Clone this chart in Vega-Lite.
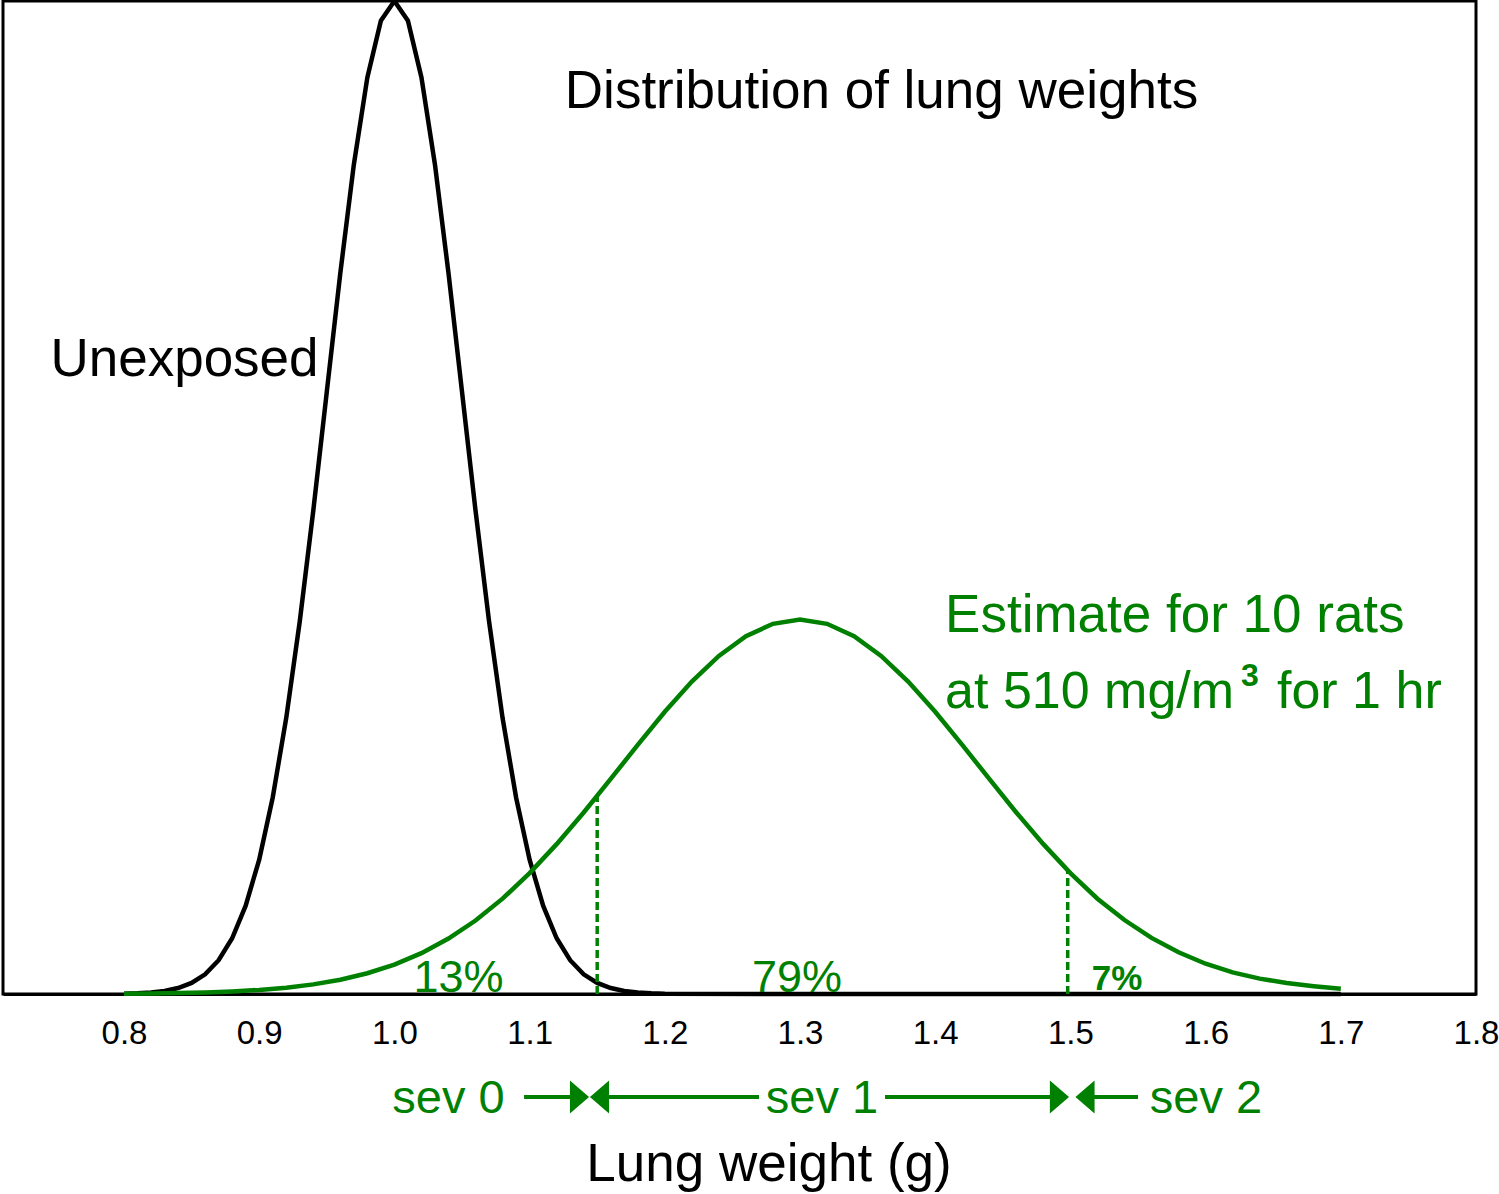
{
  "$schema": "https://vega.github.io/schema/vega-lite/v6.json",
  "width": 1473,
  "height": 993,
  "autosize": {"type": "none"},
  "padding": {"left": 3, "top": 1, "right": 23, "bottom": 200},
  "background": "white",
  "config": {
    "view": {"stroke": "black", "strokeWidth": 3},
    "font": "Liberation Sans",
    "text": {"font": "Liberation Sans"}
  },
  "datasets": {
    "curves": [
      {"x": 0.80, "density": 0.0003, "series": "Unexposed"},
      {"x": 0.81, "density": 0.0007, "series": "Unexposed"},
      {"x": 0.82, "density": 0.0015, "series": "Unexposed"},
      {"x": 0.83, "density": 0.0031, "series": "Unexposed"},
      {"x": 0.84, "density": 0.0060, "series": "Unexposed"},
      {"x": 0.85, "density": 0.0111, "series": "Unexposed"},
      {"x": 0.86, "density": 0.0198, "series": "Unexposed"},
      {"x": 0.87, "density": 0.0340, "series": "Unexposed"},
      {"x": 0.88, "density": 0.0561, "series": "Unexposed"},
      {"x": 0.89, "density": 0.0889, "series": "Unexposed"},
      {"x": 0.90, "density": 0.1353, "series": "Unexposed"},
      {"x": 0.91, "density": 0.1979, "series": "Unexposed"},
      {"x": 0.92, "density": 0.2780, "series": "Unexposed"},
      {"x": 0.93, "density": 0.3753, "series": "Unexposed"},
      {"x": 0.94, "density": 0.4868, "series": "Unexposed"},
      {"x": 0.95, "density": 0.6065, "series": "Unexposed"},
      {"x": 0.96, "density": 0.7261, "series": "Unexposed"},
      {"x": 0.97, "density": 0.8353, "series": "Unexposed"},
      {"x": 0.98, "density": 0.9231, "series": "Unexposed"},
      {"x": 0.99, "density": 0.9802, "series": "Unexposed"},
      {"x": 1.00, "density": 1.0000, "series": "Unexposed"},
      {"x": 1.01, "density": 0.9802, "series": "Unexposed"},
      {"x": 1.02, "density": 0.9231, "series": "Unexposed"},
      {"x": 1.03, "density": 0.8353, "series": "Unexposed"},
      {"x": 1.04, "density": 0.7261, "series": "Unexposed"},
      {"x": 1.05, "density": 0.6065, "series": "Unexposed"},
      {"x": 1.06, "density": 0.4868, "series": "Unexposed"},
      {"x": 1.07, "density": 0.3753, "series": "Unexposed"},
      {"x": 1.08, "density": 0.2780, "series": "Unexposed"},
      {"x": 1.09, "density": 0.1979, "series": "Unexposed"},
      {"x": 1.10, "density": 0.1353, "series": "Unexposed"},
      {"x": 1.11, "density": 0.0889, "series": "Unexposed"},
      {"x": 1.12, "density": 0.0561, "series": "Unexposed"},
      {"x": 1.13, "density": 0.0340, "series": "Unexposed"},
      {"x": 1.14, "density": 0.0198, "series": "Unexposed"},
      {"x": 1.15, "density": 0.0111, "series": "Unexposed"},
      {"x": 1.16, "density": 0.0060, "series": "Unexposed"},
      {"x": 1.17, "density": 0.0031, "series": "Unexposed"},
      {"x": 1.18, "density": 0.0015, "series": "Unexposed"},
      {"x": 1.19, "density": 0.0007, "series": "Unexposed"},
      {"x": 1.20, "density": 0.0003, "series": "Unexposed"},
      {"x": 1.30, "density": 0.0, "series": "Unexposed"},
      {"x": 1.40, "density": 0.0, "series": "Unexposed"},
      {"x": 1.50, "density": 0.0, "series": "Unexposed"},
      {"x": 1.60, "density": 0.0, "series": "Unexposed"},
      {"x": 1.70, "density": 0.0, "series": "Unexposed"},
      {"x": 0.80, "density": 0.0003, "series": "Estimate"},
      {"x": 0.82, "density": 0.0006, "series": "Estimate"},
      {"x": 0.84, "density": 0.0010, "series": "Estimate"},
      {"x": 0.86, "density": 0.0016, "series": "Estimate"},
      {"x": 0.88, "density": 0.0026, "series": "Estimate"},
      {"x": 0.90, "density": 0.0041, "series": "Estimate"},
      {"x": 0.92, "density": 0.0064, "series": "Estimate"},
      {"x": 0.94, "density": 0.0097, "series": "Estimate"},
      {"x": 0.96, "density": 0.0144, "series": "Estimate"},
      {"x": 0.98, "density": 0.0209, "series": "Estimate"},
      {"x": 1.00, "density": 0.0296, "series": "Estimate"},
      {"x": 1.02, "density": 0.0411, "series": "Estimate"},
      {"x": 1.04, "density": 0.0558, "series": "Estimate"},
      {"x": 1.06, "density": 0.0740, "series": "Estimate"},
      {"x": 1.08, "density": 0.0960, "series": "Estimate"},
      {"x": 1.10, "density": 0.1217, "series": "Estimate"},
      {"x": 1.12, "density": 0.1509, "series": "Estimate"},
      {"x": 1.14, "density": 0.1828, "series": "Estimate"},
      {"x": 1.16, "density": 0.2166, "series": "Estimate"},
      {"x": 1.18, "density": 0.2509, "series": "Estimate"},
      {"x": 1.20, "density": 0.2842, "series": "Estimate"},
      {"x": 1.22, "density": 0.3146, "series": "Estimate"},
      {"x": 1.24, "density": 0.3405, "series": "Estimate"},
      {"x": 1.26, "density": 0.3603, "series": "Estimate"},
      {"x": 1.28, "density": 0.3728, "series": "Estimate"},
      {"x": 1.30, "density": 0.3770, "series": "Estimate"},
      {"x": 1.32, "density": 0.3728, "series": "Estimate"},
      {"x": 1.34, "density": 0.3603, "series": "Estimate"},
      {"x": 1.36, "density": 0.3405, "series": "Estimate"},
      {"x": 1.38, "density": 0.3146, "series": "Estimate"},
      {"x": 1.40, "density": 0.2842, "series": "Estimate"},
      {"x": 1.42, "density": 0.2509, "series": "Estimate"},
      {"x": 1.44, "density": 0.2166, "series": "Estimate"},
      {"x": 1.46, "density": 0.1828, "series": "Estimate"},
      {"x": 1.48, "density": 0.1509, "series": "Estimate"},
      {"x": 1.50, "density": 0.1217, "series": "Estimate"},
      {"x": 1.52, "density": 0.0960, "series": "Estimate"},
      {"x": 1.54, "density": 0.0745, "series": "Estimate"},
      {"x": 1.56, "density": 0.0565, "series": "Estimate"},
      {"x": 1.58, "density": 0.0420, "series": "Estimate"},
      {"x": 1.60, "density": 0.0305, "series": "Estimate"},
      {"x": 1.62, "density": 0.0218, "series": "Estimate"},
      {"x": 1.64, "density": 0.0155, "series": "Estimate"},
      {"x": 1.66, "density": 0.0110, "series": "Estimate"},
      {"x": 1.68, "density": 0.0078, "series": "Estimate"},
      {"x": 1.70, "density": 0.0052, "series": "Estimate"}
    ],
    "cutoffs": [
      {"x": 1.15, "y0": 0, "y1": 0.1996},
      {"x": 1.498, "y0": 0, "y1": 0.1240}
    ],
    "arrowLines": [
      {"x": 1.0959, "x2": 1.1336, "y": -0.1037},
      {"x": 1.1558, "x2": 1.2697, "y": -0.1037},
      {"x": 1.3629, "x2": 1.4886, "y": -0.1037},
      {"x": 1.5145, "x2": 1.5500, "y": -0.1037}
    ],
    "arrowHeads": [
      {"x": 1.1369, "y": -0.1037, "dir": "right"},
      {"x": 1.1517, "y": -0.1037, "dir": "left"},
      {"x": 1.4919, "y": -0.1037, "dir": "right"},
      {"x": 1.5108, "y": -0.1037, "dir": "left"}
    ],
    "blackLabels": [
      {"x": 1.3603, "y": 0.8923, "label": "Distribution of lung weights"},
      {"x": 0.84475, "y": 0.6224, "label": "Unexposed"}
    ],
    "estimateLabel": [
      {"x": 1.4073, "y": 0.3646, "label": "Estimate for 10 rats"}
    ],
    "greenLabels": [
      {"x": 1.4073, "y": 0.2880, "label": "at 510 mg/m"},
      {"x": 1.6528, "y": 0.2880, "label": "for 1 hr"}
    ],
    "superscript": [
      {"x": 1.6262, "y": 0.3102, "label": "3"}
    ],
    "percents": [
      {"x": 1.0474, "y": 0.002, "label": "13%"},
      {"x": 1.2978, "y": 0.002, "label": "79%"}
    ],
    "smallPercent": [
      {"x": 1.5345, "y": 0.004, "label": "7%"}
    ],
    "sevLabels": [
      {"x": 1.0400, "y": -0.1198, "label": "sev 0"},
      {"x": 1.3163, "y": -0.1198, "label": "sev 1"},
      {"x": 1.6003, "y": -0.1198, "label": "sev 2"}
    ]
  },
  "encoding": {
    "x": {
      "field": "x", "type": "quantitative",
      "scale": {"domain": [0.7105, 1.8], "nice": false, "zero": false},
      "axis": {
        "values": [0.8, 0.9, 1.0, 1.1, 1.2, 1.3, 1.4, 1.5, 1.6, 1.7, 1.8],
        "format": ".1f",
        "labelFont": "Liberation Sans",
        "labelFontSize": 33,
        "labelColor": "black",
        "labelBaseline": "alphabetic",
        "labelPadding": 49,
        "labelFlush": false,
        "labelOverlap": false,
        "ticks": false,
        "tickSize": 0,
        "grid": false,
        "domainColor": "black",
        "domainWidth": 3,
        "title": "Lung weight (g)",
        "titleFont": "Liberation Sans",
        "titleFontSize": 53,
        "titleFontWeight": "normal",
        "titleColor": "black",
        "titleBaseline": "alphabetic",
        "titleAlign": "center",
        "titleX": 765.5,
        "titleY": 186
      }
    }
  },
  "layer": [
    {
      "data": {"name": "curves"},
      "mark": {"type": "line", "strokeWidth": 4.5},
      "encoding": {
        "y": {
          "field": "density", "type": "quantitative",
          "scale": {"domain": [0, 1], "nice": false, "zero": false},
          "axis": null
        },
        "color": {
          "field": "series", "type": "nominal",
          "scale": {"domain": ["Unexposed", "Estimate"], "range": ["black", "#008000"]},
          "legend": null
        }
      }
    },
    {
      "data": {"name": "cutoffs"},
      "mark": {"type": "rule", "color": "#008000", "strokeWidth": 3.5, "strokeDash": [8, 4]},
      "encoding": {
        "y": {"field": "y0", "type": "quantitative", "scale": {"domain": [0, 1], "nice": false, "zero": false}, "axis": null},
        "y2": {"field": "y1"}
      }
    },
    {
      "data": {"name": "arrowLines"},
      "mark": {"type": "rule", "color": "#008000", "strokeWidth": 4},
      "encoding": {
        "x2": {"field": "x2"},
        "y": {"field": "y", "type": "quantitative", "scale": {"domain": [0, 1], "nice": false, "zero": false}, "axis": null}
      }
    },
    {
      "data": {"name": "arrowHeads"},
      "mark": {"type": "point", "filled": true, "color": "#008000", "opacity": 1, "size": 1089, "strokeWidth": 0},
      "encoding": {
        "y": {"field": "y", "type": "quantitative", "scale": {"domain": [0, 1], "nice": false, "zero": false}, "axis": null},
        "shape": {
          "field": "dir", "type": "nominal",
          "scale": {"domain": ["right", "left"], "range": ["M -0.58 -1 L 0.58 0 L -0.58 1 Z", "M 0.58 -1 L -0.58 0 L 0.58 1 Z"]},
          "legend": null
        }
      }
    },
    {
      "data": {"name": "blackLabels"},
      "mark": {"type": "text", "font": "Liberation Sans", "fontSize": 53, "color": "black", "align": "center", "baseline": "alphabetic"},
      "encoding": {
        "y": {"field": "y", "type": "quantitative", "scale": {"domain": [0, 1], "nice": false, "zero": false}, "axis": null},
        "text": {"field": "label"}
      }
    },
    {
      "data": {"name": "estimateLabel"},
      "mark": {"type": "text", "font": "Liberation Sans", "fontSize": 53, "color": "#008000", "align": "left", "baseline": "alphabetic"},
      "encoding": {
        "y": {"field": "y", "type": "quantitative", "scale": {"domain": [0, 1], "nice": false, "zero": false}, "axis": null},
        "text": {"field": "label"}
      }
    },
    {
      "data": {"name": "greenLabels"},
      "mark": {"type": "text", "font": "Liberation Sans", "fontSize": 52, "color": "#008000", "align": "left", "baseline": "alphabetic"},
      "encoding": {
        "y": {"field": "y", "type": "quantitative", "scale": {"domain": [0, 1], "nice": false, "zero": false}, "axis": null},
        "text": {"field": "label"}
      }
    },
    {
      "data": {"name": "superscript"},
      "mark": {"type": "text", "font": "Liberation Sans", "fontSize": 32, "fontWeight": "bold", "color": "#008000", "align": "left", "baseline": "alphabetic"},
      "encoding": {
        "y": {"field": "y", "type": "quantitative", "scale": {"domain": [0, 1], "nice": false, "zero": false}, "axis": null},
        "text": {"field": "label"}
      }
    },
    {
      "data": {"name": "percents"},
      "mark": {"type": "text", "font": "Liberation Sans", "fontSize": 45, "color": "#008000", "align": "center", "baseline": "alphabetic"},
      "encoding": {
        "y": {"field": "y", "type": "quantitative", "scale": {"domain": [0, 1], "nice": false, "zero": false}, "axis": null},
        "text": {"field": "label"}
      }
    },
    {
      "data": {"name": "smallPercent"},
      "mark": {"type": "text", "font": "Liberation Sans", "fontSize": 35, "fontWeight": "bold", "color": "#008000", "align": "center", "baseline": "alphabetic"},
      "encoding": {
        "y": {"field": "y", "type": "quantitative", "scale": {"domain": [0, 1], "nice": false, "zero": false}, "axis": null},
        "text": {"field": "label"}
      }
    },
    {
      "data": {"name": "sevLabels"},
      "mark": {"type": "text", "font": "Liberation Sans", "fontSize": 47, "color": "#008000", "align": "center", "baseline": "alphabetic"},
      "encoding": {
        "y": {"field": "y", "type": "quantitative", "scale": {"domain": [0, 1], "nice": false, "zero": false}, "axis": null},
        "text": {"field": "label"}
      }
    }
  ]
}
